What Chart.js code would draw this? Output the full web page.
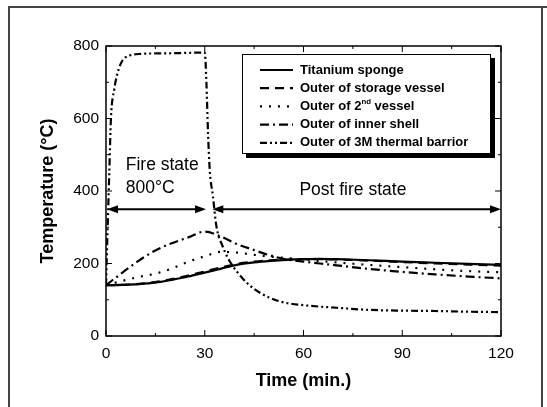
<!DOCTYPE html>
<html><head><meta charset="utf-8">
<script src="https://cdn.jsdelivr.net/npm/chart.js@4/dist/chart.umd.min.js"></script>
<style>html,body{margin:0;padding:0;background:#fff}#wrap{width:547px;height:407px;position:relative}</style>
</head><body><div id="wrap"><canvas id="c" width="547" height="407"></canvas></div>
<script>
// ---- data ----
const seriesLabels = ["Titanium sponge", "Outer of storage vessel", "Outer of 2^{nd} vessel", "Outer of inner shell", "Outer of 3M thermal barrior"];
const timeMin        = [0,   5,   10,  15,  20,  25,  30,  35,  40,  45,  50,  55,  60,  65,  70,  80,  90,  100, 110, 120];
const titaniumSponge = [140, 141, 143, 147, 155, 164, 175, 186, 197, 203, 207, 210, 212, 213, 212, 209, 205, 202, 199, 196];
const storageVessel  = [140, 141, 144, 149, 157, 167, 178, 189, 199, 205, 209, 211, 212, 212, 211, 208, 204, 200, 197, 194];
const secondVessel   = [140, 152, 163, 172, 186, 205, 220, 232, 230, 224, 219, 215, 211, 207, 203, 196, 190, 184, 179, 176];
const innerShell     = [140, 175, 208, 236, 256, 272, 288, 274, 253, 237, 222, 211, 205, 200, 195, 185, 177, 170, 164, 159];
const barrierTime    = [0,   0.5, 1,   1.5, 2.5, 3.5, 5,   7,   10,  20,  30,  30.5, 31,  31.5, 32.5, 33.5, 35.5, 38,  40,  43,  47,  53, 60, 70, 80, 90, 100, 110, 120];
const barrierTemp    = [140, 300, 450, 600, 680, 725, 760, 773, 778, 780, 782, 700,  560, 460,  385,  305,  246,  200, 175, 145, 118, 95, 85, 78, 72, 70, 69,  67,  66];
const xTickValues = [0, 30, 60, 90, 120];
const yTickValues = [0, 200, 400, 600, 800];
const phaseTexts = ["Fire state", "800°C", "Post fire state"];
const phaseTextTime = [6, 6, 75];
const phaseTextTemp = [472, 408, 403];
const phaseArrowTemp = 350;
const fireArrowSpan = [0.3, 30.4];
const postArrowSpan = [32.3, 120];

// ---- styling ----
const FONT = "'Liberation Sans', Arial, sans-serif";
const dashes = [[], [9, 6], [2, 7], [9, 4, 2, 4], [7, 3, 2, 3, 2, 3]];
const widths = [2.2, 2.2, 2.2, 2.2, 2.2];

function pts(xs, ys) { return xs.map((x, i) => ({x: x, y: ys[i]})); }
const seriesData = [pts(timeMin, titaniumSponge), pts(timeMin, storageVessel), pts(timeMin, secondVessel), pts(timeMin, innerShell), pts(barrierTime, barrierTemp)];

function drawRich(ctx, text, x, y, size, weight, align) {
  const parts = [];
  const re = /\^\{([^}]*)\}/g; let last = 0, m;
  while ((m = re.exec(text))) { parts.push([text.slice(last, m.index), false]); parts.push([m[1], true]); last = re.lastIndex; }
  parts.push([text.slice(last), false]);
  const fnt = s => weight + " " + s + "px " + FONT;
  let total = 0;
  parts.forEach(p => { ctx.font = fnt(p[1] ? size * 0.6 : size); total += ctx.measureText(p[0]).width; });
  let cx = align === 'center' ? x - total / 2 : x;
  ctx.textAlign = 'left'; ctx.textBaseline = 'middle';
  parts.forEach(p => {
    ctx.font = fnt(p[1] ? size * 0.6 : size);
    ctx.fillText(p[0], cx, p[1] ? y - size * 0.35 : y);
    cx += ctx.measureText(p[0]).width;
  });
}

const decor = {
  id: 'decor',
  beforeDraw(chart) {
    const ctx = chart.ctx;
    ctx.save();
    ctx.fillStyle = '#fff'; ctx.fillRect(0, 0, chart.width, chart.height);
    ctx.strokeStyle = '#444'; ctx.lineWidth = 2;
    ctx.beginPath(); ctx.moveTo(9, 407); ctx.lineTo(9, 7); ctx.lineTo(547, 7);
    ctx.moveTo(542, 7); ctx.lineTo(542, 407); ctx.stroke();
    ctx.restore();
  },
  afterDatasetsDraw(chart) {
    const ctx = chart.ctx, a = chart.chartArea, xs = chart.scales.x, ys = chart.scales.y;
    ctx.save();
    ctx.strokeStyle = '#000'; ctx.fillStyle = '#000';
    // frame
    ctx.lineWidth = 1.5; ctx.setLineDash([]);
    ctx.strokeRect(a.left, a.top, a.right - a.left, a.bottom - a.top);
    // inward ticks (major + minor)
    ctx.lineWidth = 1;
    const xStep = xTickValues[1] - xTickValues[0];
    for (let t = xTickValues[0]; t <= xTickValues[xTickValues.length - 1]; t += xStep / 2) {
      const p = xs.getPixelForValue(t), L = (t % xStep === 0) ? 6 : 3;
      ctx.beginPath(); ctx.moveTo(p, a.bottom); ctx.lineTo(p, a.bottom - L); ctx.moveTo(p, a.top); ctx.lineTo(p, a.top + L); ctx.stroke();
    }
    const yStep = yTickValues[1] - yTickValues[0];
    for (let v = yTickValues[0]; v <= yTickValues[yTickValues.length - 1]; v += yStep / 2) {
      const p = ys.getPixelForValue(v), L = (v % yStep === 0) ? 6 : 3;
      ctx.beginPath(); ctx.moveTo(a.left, p); ctx.lineTo(a.left + L, p); ctx.moveTo(a.right, p); ctx.lineTo(a.right - L, p); ctx.stroke();
    }
    // arrows
    const ay = ys.getPixelForValue(phaseArrowTemp);
    function arrow(t0, t1) {
      const x0 = xs.getPixelForValue(t0), x1 = xs.getPixelForValue(t1);
      ctx.lineWidth = 2;
      ctx.beginPath(); ctx.moveTo(x0 + 6, ay); ctx.lineTo(x1 - 6, ay); ctx.stroke();
      ctx.beginPath(); ctx.moveTo(x0, ay); ctx.lineTo(x0 + 11, ay - 4); ctx.lineTo(x0 + 11, ay + 4); ctx.closePath(); ctx.fill();
      ctx.beginPath(); ctx.moveTo(x1, ay); ctx.lineTo(x1 - 11, ay - 4); ctx.lineTo(x1 - 11, ay + 4); ctx.closePath(); ctx.fill();
    }
    arrow(fireArrowSpan[0], fireArrowSpan[1]);
    arrow(postArrowSpan[0], postArrowSpan[1]);
    // phase texts
    phaseTexts.forEach((s, i) => {
      drawRich(ctx, s, xs.getPixelForValue(phaseTextTime[i]), ys.getPixelForValue(phaseTextTemp[i]), 17.5, 'normal', i === 2 ? 'center' : 'left');
    });
    // legend box
    const bx = 242, by = 54, bw = 248, bh = 99;
    ctx.fillStyle = '#fff'; ctx.fillRect(bx, by, bw, bh);
    ctx.fillStyle = '#000';
    ctx.fillRect(bx + bw, by + 4, 5, bh + 1);
    ctx.fillRect(bx + 4, by + bh, bw + 1, 5);
    ctx.lineWidth = 1; ctx.strokeRect(bx + 0.5, by + 0.5, bw, bh);
    chart.data.datasets.forEach((ds, i) => {
      const ly = by + 16 + i * 18.2;
      ctx.setLineDash(ds.borderDash || []);
      ctx.lineWidth = ds.borderWidth;
      ctx.beginPath(); ctx.moveTo(260, ly); ctx.lineTo(293, ly); ctx.stroke();
      ctx.setLineDash([]);
      drawRich(ctx, seriesLabels[i], 300, ly, 13, 'bold', 'left');
    });
    ctx.restore();
  }
};

new Chart(document.getElementById('c'), {
  type: 'scatter',
  data: {
    datasets: seriesData.map((d, i) => ({
      label: seriesLabels[i], data: d, showLine: true, pointRadius: 0,
      borderColor: '#000', borderWidth: widths[i], borderDash: dashes[i],
      cubicInterpolationMode: 'monotone', fill: false
    }))
  },
  options: {
    responsive: false, animation: false, devicePixelRatio: 1,
    layout: {padding: {left: 0, top: 46, right: 46, bottom: 0}},
    plugins: {legend: {display: false}, tooltip: {enabled: false}},
    scales: {
      x: {
        type: 'linear', min: 0, max: 120,
        afterFit: s => { s.height = 71; },
        afterBuildTicks: s => { s.ticks = xTickValues.map(v => ({value: v})); },
        grid: {display: false, drawTicks: false}, border: {display: false},
        ticks: {color: '#000', font: {family: FONT, size: 15.5}, padding: 8, maxRotation: 0},
        title: {display: true, text: 'Time (min.)', color: '#000', font: {family: FONT, size: 18, weight: 'bold'}, padding: {top: 0, bottom: 15}}
      },
      y: {
        type: 'linear', min: 0, max: 800,
        afterFit: s => { s.width = 106; },
        afterBuildTicks: s => { s.ticks = yTickValues.map(v => ({value: v})); },
        grid: {display: false, drawTicks: false}, border: {display: false},
        ticks: {color: '#000', font: {family: FONT, size: 15.5}, padding: 7},
        title: {display: true, text: 'Temperature (°C)', color: '#000', font: {family: FONT, size: 18, weight: 'bold'}, padding: {top: 37, bottom: 0}}
      }
    }
  },
  plugins: [decor]
});
</script></body></html>
